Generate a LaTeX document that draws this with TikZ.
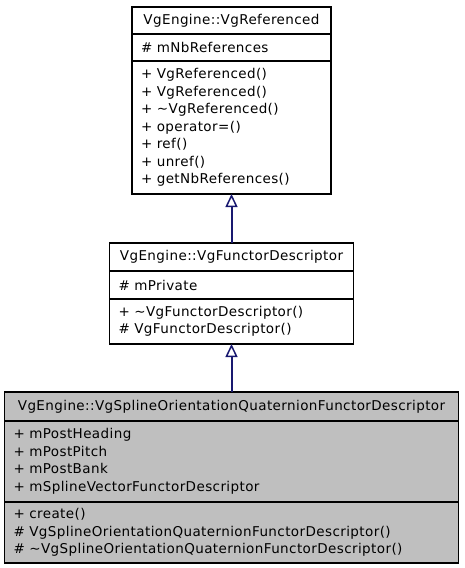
\documentclass[tikz,border=0pt]{standalone}
\usepackage{fontspec}
\setmainfont{DejaVu Sans}[LetterSpace=3]
\usetikzlibrary{positioning,arrows.meta}
\definecolor{edgeblue}{RGB}{25,25,112}

\begin{document}
\begin{tikzpicture}[x=1pt, y=1pt, node distance=49pt,
		classpart/.style={draw, line width=1.2pt, outer sep=0pt, inner xsep=9pt, inner ysep=0pt, align=left, font={\fontsize{13.5}{17.5}\selectfont}},
		classtitle/.style={classpart, align=center},
		current/.style={fill=black!25},
		extends/.style={color=edgeblue, line width=2pt, -{Triangle[open, length=13pt, width=12pt, line width=1.5pt]}}]
		\useasboundingbox (0,0) rectangle (464,-568);

		% base class
		\node[classtitle, text width=181pt, minimum height=27pt, anchor=north] (refname) at (231.5,-7) {VgEngine::VgReferenced};
		\node[classpart, text width=181pt, minimum height=27pt, below=0pt of refname] (refattr) {\# mNbReferences};
		\node[classpart, text width=181pt, minimum height=133pt, below=0pt of refattr] (refops) {+ VgReferenced()\\+ VgReferenced()\\+ \textasciitilde VgReferenced()\\+ operator=()\\+ ref()\\+ unref()\\+ getNbReferences()};

		% functor descriptor
		\node[classtitle, text width=226pt, minimum height=28pt, below=of refops] (fdname) {VgEngine::VgFunctorDescriptor};
		\node[classpart, text width=226pt, minimum height=28pt, below=0pt of fdname] (fdattr) {\# mPrivate};
		\node[classpart, text width=226pt, minimum height=45pt, below=0pt of fdattr] (fdops) {+ \textasciitilde VgFunctorDescriptor()\\\# VgFunctorDescriptor()};

		% spline orientation quaternion functor descriptor
		\node[classtitle, current, text width=436pt, minimum height=29pt, below=48pt of fdops] (sqname) {VgEngine::VgSplineOrientationQuaternionFunctorDescriptor};
		\node[classpart, current, text width=436pt, minimum height=81pt, below=0pt of sqname] (sqattr) {+ mPostHeading\\+ mPostPitch\\+ mPostBank\\+ mSplineVectorFunctorDescriptor};
		\node[classpart, current, text width=436pt, minimum height=61pt, below=0pt of sqattr] (sqops) {+ create()\\\# VgSplineOrientationQuaternionFunctorDescriptor()\\\# \textasciitilde VgSplineOrientationQuaternionFunctorDescriptor()};

		\draw[extends] (fdname.north) -- (refops.south);
		\draw[extends] (sqname.north) -- (fdops.south);
	\end{tikzpicture}
\end{document}
